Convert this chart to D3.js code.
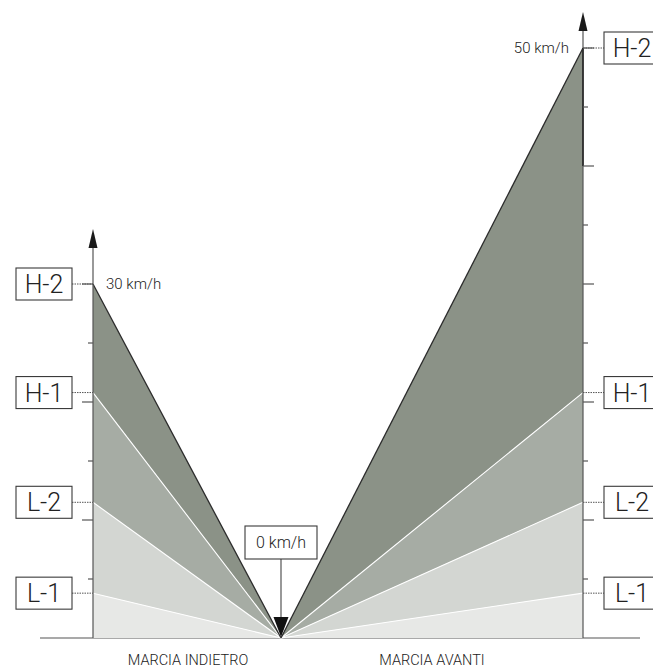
<!DOCTYPE html>
<html>
<head>
<meta charset="utf-8">
<script src="https://cdn.jsdelivr.net/npm/d3@7"></script>
<style>
  body { margin: 0; background: #fff; overflow: hidden; }
  text { font-family: "Roboto", "DejaVu Sans", sans-serif; font-weight: 300; fill: #222; }
</style>
</head>
<body>
<svg width="653" height="669"></svg>
<script>
// levels, bottom to top
const levels = ["L-1", "L-2", "H-1", "H-2"];
const speedIndietro = [3.8, 11.5, 20.8, 30];   // km/h
const speedAvanti = [3.8, 11.5, 20.8, 50];      // km/h
const bandColors = ["#e7e8e6", "#d3d6d2", "#a6aca4", "#8b9287"];
const sideLabels = ["MARCIA INDIETRO", "MARCIA AVANTI"];
const tickStep = 5;

const svg = d3.select("svg");

const y = d3.scaleLinear().domain([0, 50]).range([638, 48]);
const x = d3.scaleOrdinal().domain(["indietro", "zero", "avanti"]).range([93, 281, 583]);

const x0 = x("zero"), y0 = y(0);

const sides = [
  {key: "indietro", speeds: speedIndietro, dir: -1, label: sideLabels[0], labelX: 188, arrowGap: 55},
  {key: "avanti", speeds: speedAvanti, dir: 1, label: sideLabels[1], labelX: 432, arrowGap: 36}
];

// baseline
svg.append("line")
  .attr("x1", 40).attr("x2", 640)
  .attr("y1", y0).attr("y2", y0)
  .attr("stroke", "#555").attr("stroke-width", 1.2);

sides.forEach(s => {
  const xa = x(s.key);
  const bounds = [0].concat(s.speeds);

  // filled wedges
  svg.append("g").selectAll("path")
    .data(s.speeds)
    .enter().append("path")
    .attr("d", (d, i) => d3.line()([[x0, y0], [xa, y(bounds[i])], [xa, y(d)]]) + "Z")
    .attr("fill", (d, i) => bandColors[i]);

  // separators
  svg.append("g").selectAll("line")
    .data(s.speeds)
    .enter().append("line")
    .attr("x1", x0).attr("y1", y0)
    .attr("x2", xa).attr("y2", d => y(d))
    .attr("stroke", (d, i) => i === s.speeds.length - 1 ? "#2b2b2b" : "#fff")
    .attr("stroke-width", (d, i) => i === s.speeds.length - 1 ? 1.3 : 1.1);

  const top = d3.max(s.speeds);
  const ay = y(top) - s.arrowGap;

  // axis line
  svg.append("line")
    .attr("x1", xa).attr("x2", xa)
    .attr("y1", y0).attr("y2", ay + 10)
    .attr("stroke", "#555").attr("stroke-width", 1.2);

  if (s.dir === 1) {
    svg.append("line")
      .attr("x1", xa).attr("x2", xa)
      .attr("y1", y(top)).attr("y2", y(top - 10))
      .attr("stroke", "#222").attr("stroke-width", 1.5);
  }

  // arrow
  svg.append("path")
    .attr("d", `M${xa},${ay} L${xa - 4.5},${ay + 19} L${xa + 4.5},${ay + 19} Z`)
    .attr("fill", "#1a1a1a");

  // ticks
  const ticks = d3.range(tickStep, top + 0.1, tickStep);
  svg.append("g").selectAll("line")
    .data(ticks)
    .enter().append("line")
    .attr("x1", xa)
    .attr("x2", d => xa + s.dir * (d % 10 === 0 ? 11 : 5))
    .attr("y1", d => y(d)).attr("y2", d => y(d))
    .attr("stroke", "#555").attr("stroke-width", 1.2);

  // level markers
  const bx = s.dir === -1 ? 16 : 604;
  const mk = svg.append("g").selectAll("g")
    .data(s.speeds)
    .enter().append("g");
  mk.append("line")
    .attr("x1", s.dir === -1 ? bx + 56 : xa)
    .attr("x2", s.dir === -1 ? xa : bx)
    .attr("y1", d => y(d)).attr("y2", d => y(d))
    .attr("stroke", "#555").attr("stroke-width", 1)
    .attr("stroke-dasharray", "1.5,1");
  mk.append("rect")
    .attr("x", bx).attr("y", d => y(d) - 16)
    .attr("width", 56).attr("height", 32)
    .attr("fill", "#fff").attr("stroke", "#3a3a3a").attr("stroke-width", 1.1);
  mk.append("text")
    .attr("x", bx + 28).attr("y", d => y(d) + 9)
    .attr("text-anchor", "middle")
    .attr("font-size", 25)
    .text((d, i) => levels[i]);

  // top speed label
  svg.append("text")
    .attr("x", s.dir === -1 ? xa + 13 : xa - 14)
    .attr("y", y(top) + 5)
    .attr("text-anchor", s.dir === -1 ? "start" : "end")
    .attr("font-size", 15)
    .text(`${top} km/h`);

  // side label
  svg.append("text")
    .attr("x", s.labelX).attr("y", 665)
    .attr("text-anchor", "middle")
    .attr("font-size", 14.5)
    .text(s.label);
});

// 0 km/h marker
svg.append("line")
  .attr("x1", x0).attr("x2", x0)
  .attr("y1", 559).attr("y2", 620)
  .attr("stroke", "#444").attr("stroke-width", 1.1);
svg.append("path")
  .attr("d", `M${x0},${y0 - 1} L${x0 - 7.5},${y0 - 21} L${x0 + 7.5},${y0 - 21} Z`)
  .attr("fill", "#111");
svg.append("rect")
  .attr("x", 245).attr("y", 526).attr("width", 72).attr("height", 33)
  .attr("fill", "#fff").attr("stroke", "#3a3a3a").attr("stroke-width", 1.1);
svg.append("text")
  .attr("x", x0).attr("y", 548)
  .attr("text-anchor", "middle")
  .attr("font-size", 16)
  .text("0 km/h");
</script>
</body>
</html>
